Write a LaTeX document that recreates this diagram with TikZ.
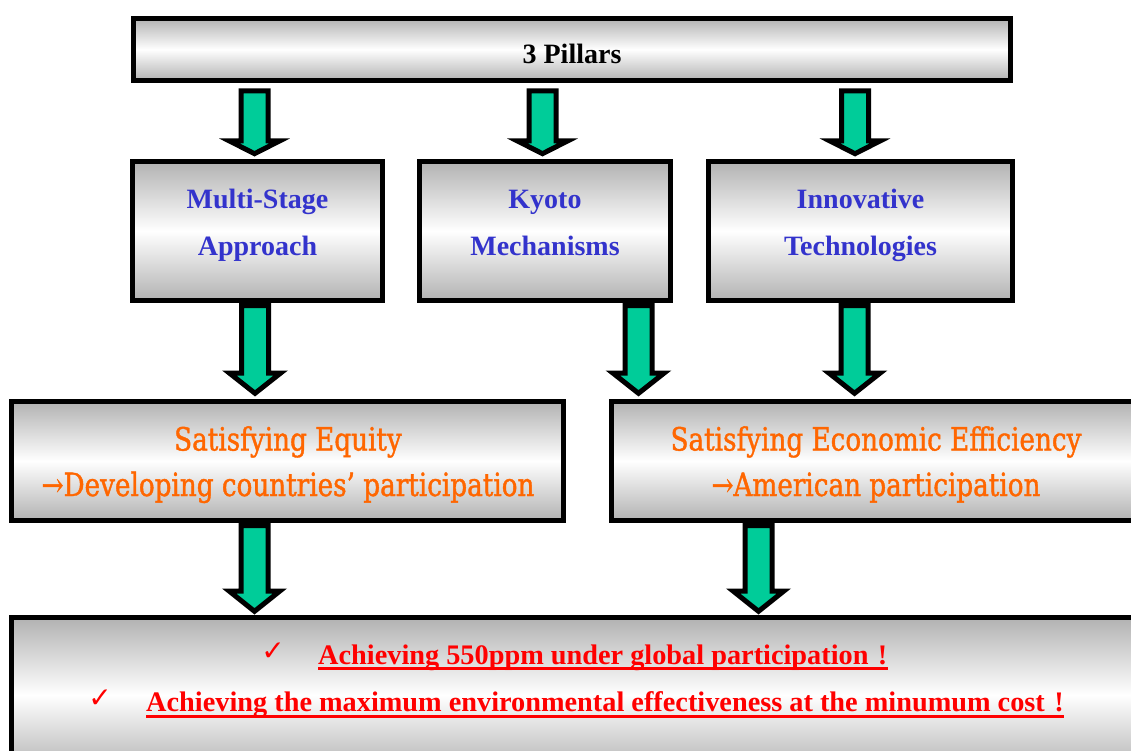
\documentclass[tikz,border=0pt]{standalone}
\usepackage{fontspec}
\setmainfont{Liberation Serif}
\newfontfamily\orfont[FakeStretch=0.82,FakeBold=1.2]{DejaVu Serif}
\newfontfamily\symfont{DejaVu Sans}
\usetikzlibrary{calc}
\definecolor{arrgreen}{RGB}{0,204,153}
\definecolor{blueT}{RGB}{51,51,204}
\definecolor{orangeT}{RGB}{255,102,0}
\definecolor{redT}{RGB}{255,0,0}
\definecolor{boxgray}{RGB}{178,178,178}
% #1 from node, #2 to node, #3 x, #4 start offset, #5 tip offset, #6 head length, #7 head half width
\newcommand\blockarrow[7]{%
  \draw[barrow] let \p1=(#1.south), \p2=(#2.north) in
    ({#3pt-13.5pt}, {\y1-#4pt}) -- ({#3pt+13.5pt}, {\y1-#4pt})
    -- ({#3pt+13.5pt}, {\y2+#5pt+#6pt}) -- ({#3pt+#7pt}, {\y2+#5pt+#6pt})
    -- ({#3pt}, {\y2+#5pt}) -- ({#3pt-#7pt}, {\y2+#5pt+#6pt})
    -- ({#3pt-13.5pt}, {\y2+#5pt+#6pt}) -- cycle;}
\begin{document}
\begin{tikzpicture}[x=1pt,y=-1pt,
  gbox/.style={draw=black, line width=5pt, top color=boxgray, bottom color=boxgray,
    middle color=white, inner sep=0pt, rectangle},
  barrow/.style={draw=black, fill=arrgreen, line width=5pt, line join=miter, miter limit=20},
  bluet/.style={font=\fontsize{28}{28}\selectfont\bfseries, text=blueT, inner sep=0pt, anchor=base},
  blackt/.style={font=\fontsize{28}{28}\selectfont\bfseries, text=black, inner sep=0pt, anchor=base},
  oranget/.style={font=\orfont\fontsize{32}{32}\selectfont, text=orangeT, inner sep=0pt, anchor=base},
  redt/.style={font=\fontsize{28.3}{28.3}\selectfont\bfseries, text=redT, inner sep=0pt, anchor=base west},
  checkt/.style={font=\symfont\fontsize{28}{28}\selectfont, text=redT, inner sep=0pt, anchor=base},
  redline/.style={draw=redT, line width=3pt}]
\useasboundingbox (0,0) rectangle (1131,751);
\fill[white] (0,0) rectangle (1131,751);
\clip (0,0) rectangle (1131,751);

% boxes
\node[gbox, minimum width=877pt, minimum height=62pt] (top) at (572,49.5) {};
\node[gbox, minimum width=250pt, minimum height=139pt] (multi) at (257.5,231) {};
\node[gbox, minimum width=251pt, minimum height=139pt] (kyoto) at (545,231) {};
\node[gbox, minimum width=304pt, minimum height=139pt] (innov) at (860.5,231) {};
\node[gbox, minimum width=552pt, minimum height=119pt] (equity) at (287.5,461) {};
\node[gbox, minimum width=531pt, minimum height=119pt] (econ) at (877,461) {};
\node[gbox, minimum width=1131pt, minimum height=155pt] (bottom) at (577,695) {};

% texts
\node[blackt] (topT) at (572,64) {3 Pillars};
\node[bluet] (multiA) at (257.5,208.5) {Multi-Stage};
\node[bluet] (multiB) at (257.5,255.5) {Approach};
\node[bluet] (kyotoA) at (545,208.5) {Kyoto};
\node[bluet] (kyotoB) at (545,255.5) {Mechanisms};
\node[bluet] (innovA) at (860.5,208.5) {Innovative};
\node[bluet] (innovB) at (860.5,255.5) {Technologies};
\node[oranget] (eqA) at (288,450.5) {Satisfying Equity};
\node[oranget] (eqB) at (288,496) {→Developing countries’ participation};
\node[oranget] (ecA) at (876,450.5) {Satisfying Economic Efficiency};
\node[oranget] (ecB) at (876,496) {→American participation};
\node[checkt] (ck1) at (273,660) {✓};
\node[checkt] (ck2) at (100,707) {✓};
\node[redt] (r1) at (318,664) {Achieving 550ppm under global participation\hspace{.333em}!\hspace{.333em}};
\node[redt] (r2) at (146,711.5) {Achieving the maximum environmental effectiveness at the minumum cost\hspace{.333em}!\hspace{.333em}};
\draw[redline] ($(r1.base west)+(0,4.5)$) -- ($(r1.base east)+(0,4.5)$);
\draw[redline] ($(r2.base west)+(0,4.5)$) -- ($(r2.base east)+(0,4.5)$);

% arrows
\blockarrow{top}{multi}{254.5}{8}{5.3}{12.7}{25}
\blockarrow{top}{kyoto}{542.5}{8}{5.3}{12.7}{25}
\blockarrow{top}{innov}{855}{8}{5.3}{12.7}{25}
\blockarrow{multi}{equity}{255}{2.5}{5.7}{20.3}{25.7}
\blockarrow{kyoto}{econ}{638.5}{2.5}{5.7}{20.3}{25.7}
\blockarrow{innov}{econ}{854.5}{2.5}{5.7}{20.3}{25.7}
\blockarrow{equity}{bottom}{254.5}{2.5}{3.7}{20.3}{25.4}
\blockarrow{econ}{bottom}{758.5}{2.5}{3.7}{20.3}{25.4}
\end{tikzpicture}
\end{document}
